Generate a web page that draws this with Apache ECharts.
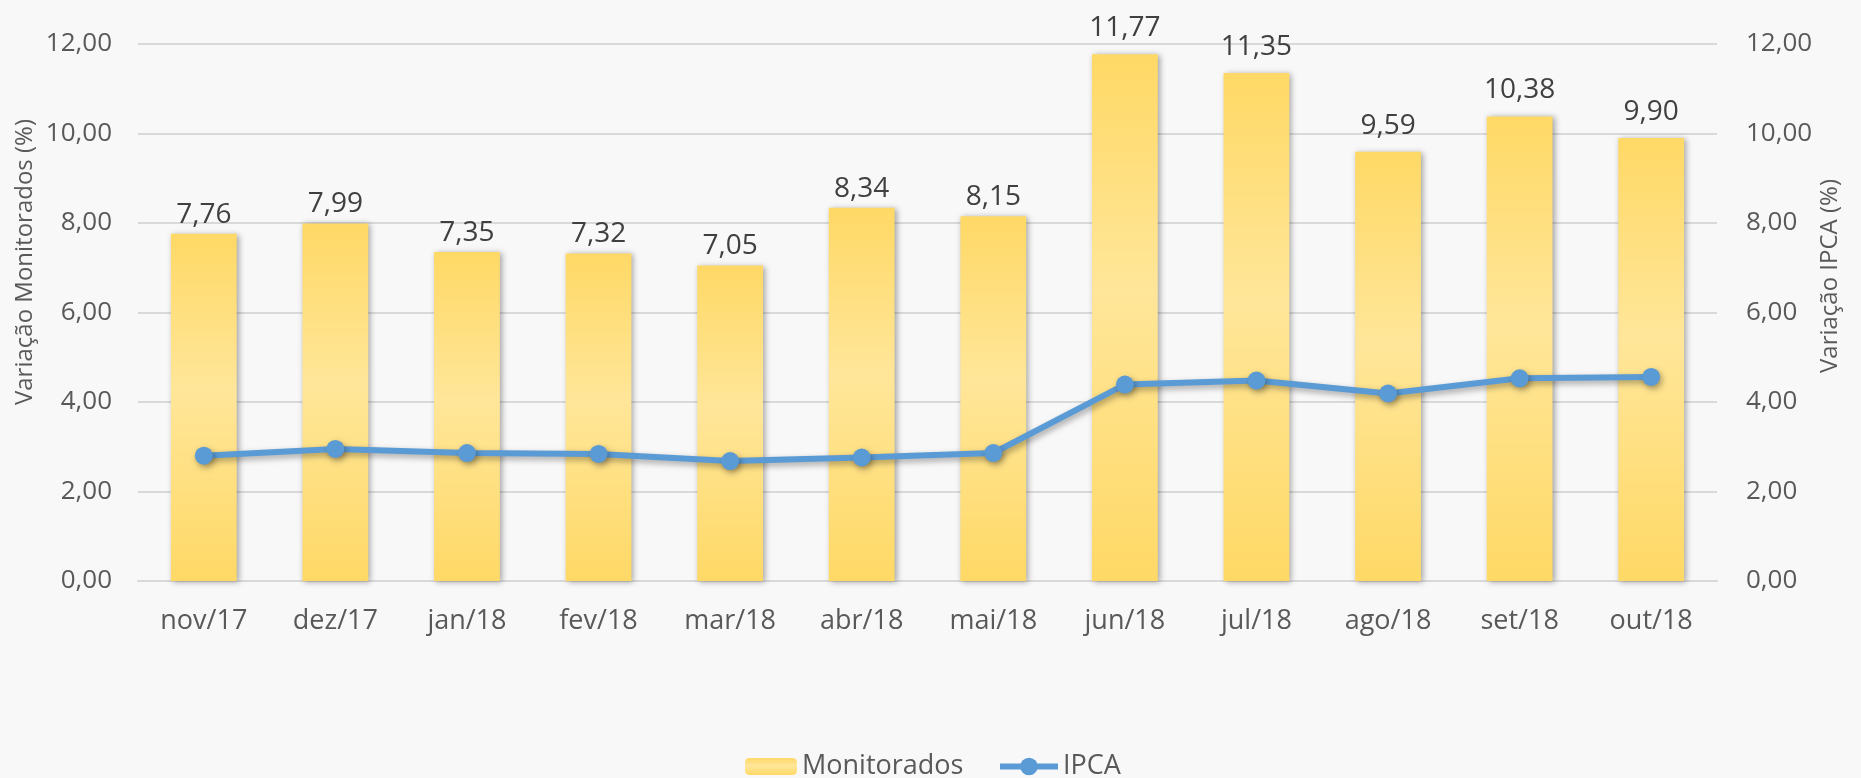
<!DOCTYPE html>
<html>
<head>
<meta charset="utf-8">
<script src="https://cdn.jsdelivr.net/npm/echarts@6/dist/echarts.min.js"></script>
<style>
html,body{margin:0;padding:0;background:#F8F8F8;}
#c{width:1861px;height:778px;}
</style>
</head>
<body>
<div id="c"></div>
<script>
const categories = ['nov/17','dez/17','jan/18','fev/18','mar/18','abr/18','mai/18','jun/18','jul/18','ago/18','set/18','out/18'];
const monitorados = [7.76, 7.99, 7.35, 7.32, 7.05, 8.34, 8.15, 11.77, 11.35, 9.59, 10.38, 9.90];
const ipca = [2.80, 2.95, 2.86, 2.84, 2.68, 2.76, 2.86, 4.39, 4.48, 4.19, 4.53, 4.56];
const seriesNames = ['Monitorados', 'IPCA'];
const axisTitles = ['Variação Monitorados (%)', 'Variação IPCA (%)'];

const FONT = 'Open Sans';
const BLUE = '#5B9BD5';
const fmt = v => Number(v).toFixed(2).replace('.', ',');
const legendText = {fontFamily: FONT, fontSize: 27, color: '#595959'};

const chart = echarts.init(document.getElementById('c'), null, {renderer: 'canvas'});
chart.setOption({
  backgroundColor: '#F8F8F8',
  animation: false,
  textStyle: {fontFamily: FONT},
  grid: {left: 138, right: 144, top: 44, bottom: 197, containLabel: false},
  legend: [
    {
      data: [seriesNames[0]],
      left: 740, top: 748,
      itemWidth: 52, itemHeight: 17,
      textStyle: legendText
    },
    {
      data: [{name: seriesNames[1], lineStyle: {width: 6, color: BLUE}, itemStyle: {color: BLUE}}],
      left: 992, top: 748,
      itemWidth: 58, itemHeight: 22,
      textStyle: legendText
    }
  ],
  xAxis: {
    type: 'category',
    data: categories,
    axisLine: {show: true, lineStyle: {color: '#D9D9D9', width: 2}},
    axisTick: {show: false},
    axisLabel: {fontFamily: FONT, fontSize: 27, color: '#595959', margin: 27}
  },
  yAxis: [
    {
      type: 'value', min: 0, max: 12, interval: 2,
      axisLine: {show: false}, axisTick: {show: false},
      splitLine: {lineStyle: {color: '#D9D9D9', width: 2}},
      axisLabel: {fontFamily: FONT, fontSize: 26, color: '#595959', margin: 26, formatter: fmt}
    },
    {
      type: 'value', min: 0, max: 12, interval: 2, position: 'right',
      axisLine: {show: false}, axisTick: {show: false},
      splitLine: {show: false},
      axisLabel: {fontFamily: FONT, fontSize: 26, color: '#595959', margin: 29, formatter: fmt}
    }
  ],
  graphic: [
    {
      type: 'text', x: 25, y: 262, rotation: Math.PI / 2,
      style: {text: axisTitles[0], fontFamily: FONT, fontSize: 24, fill: '#595959', align: 'center', verticalAlign: 'middle'}
    },
    {
      type: 'text', x: 1830, y: 276, rotation: Math.PI / 2,
      style: {text: axisTitles[1], fontFamily: FONT, fontSize: 24, fill: '#595959', align: 'center', verticalAlign: 'middle'}
    }
  ],
  series: [
    {
      name: seriesNames[0],
      type: 'bar',
      yAxisIndex: 0,
      data: monitorados.map(v => ({value: v, label: {distance: v > 9 ? 12 : 5}})),
      barWidth: '50%',
      itemStyle: {
        color: new echarts.graphic.LinearGradient(0, 0, 0, 1, [
          {offset: 0, color: '#FFD966'},
          {offset: 0.45, color: '#FFE699'},
          {offset: 1, color: '#FFD966'}
        ]),
        shadowColor: 'rgba(0,0,0,0.35)',
        shadowBlur: 6,
        shadowOffsetX: 2,
        shadowOffsetY: 1
      },
      label: {
        show: true, position: 'top', distance: 8,
        fontFamily: FONT, fontSize: 28, color: '#404040',
        formatter: p => fmt(p.value)
      }
    },
    {
      name: seriesNames[1],
      type: 'line',
      yAxisIndex: 1,
      data: ipca,
      symbol: 'circle',
      symbolSize: 18,
      lineStyle: {color: BLUE, width: 6, shadowColor: 'rgba(0,0,0,0.35)', shadowBlur: 6, shadowOffsetX: 2, shadowOffsetY: 3},
      itemStyle: {color: BLUE, shadowColor: 'rgba(0,0,0,0.35)', shadowBlur: 6, shadowOffsetX: 2, shadowOffsetY: 3},
      z: 5
    }
  ]
});
</script>
</body>
</html>
